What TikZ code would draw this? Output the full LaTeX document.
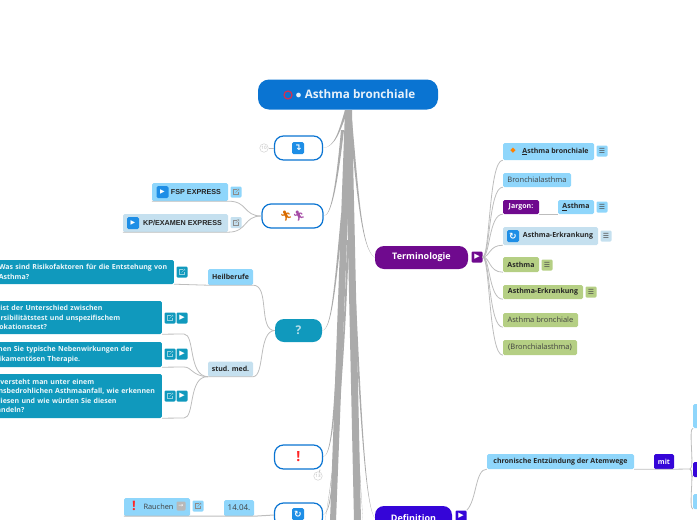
\documentclass[tikz,border=0pt]{standalone}
\usepackage{fontspec}
\setmainfont{Open Sans}
\newfontfamily\symfont{DejaVu Sans}
\newfontfamily\emojifont{Noto Emoji}
\newfontfamily\arialfont{Liberation Sans}
\usetikzlibrary{positioning}
\definecolor{skychip}{HTML}{8FD6FB}
\definecolor{palechip}{HTML}{C5E0EF}
\definecolor{greenchip}{HTML}{B5CF84}
\definecolor{tealbox}{HTML}{1099BD}
\definecolor{purplebox}{HTML}{6F0A8E}
\definecolor{indigobox}{HTML}{3505D8}
\definecolor{rootblue}{HTML}{0A74D2}
\definecolor{ringblue}{HTML}{0A74D2}
\definecolor{iconblue}{HTML}{1E8EE6}
\definecolor{limbgray}{HTML}{ABABAB}
\definecolor{linkgray}{HTML}{BDBDBD}
\definecolor{ringred}{HTML}{D02F55}
\tikzset{
  pillbox/.style={rectangle,rounded corners=9pt,inner sep=0pt,font=\fontsize{9}{12}\selectfont\bfseries,text=white},
  ringbox/.style={pillbox,draw=ringblue,line width=1.2pt,fill=white,text=black},
  chipbox/.style={rectangle,rounded corners=1.5pt,inner sep=0pt,font=\fontsize{7}{9}\selectfont\bfseries,text=black!85},
  thinchip/.style={chipbox,font=\fontsize{7.5}{9}\selectfont,text=black!75},
  questbox/.style={rectangle,rounded corners=1.5pt,fill=tealbox,text=white!92!tealbox,inner xsep=4pt,inner ysep=0pt,anchor=east,align=left,
    font=\fontsize{7}{9.4}\selectfont\bfseries},
  iconbtn/.style={rectangle,rounded corners=1.2pt,inner sep=0pt,minimum width=11pt,minimum height=11pt,font=\symfont\fontsize{7}{7}\selectfont},
  iconsq/.style={rectangle,rounded corners=1.5pt,fill=iconblue,text=white,inner sep=0pt,minimum width=12pt,minimum height=12pt,font=\symfont\bfseries\fontsize{9}{9}\selectfont},
  countmark/.style={circle,draw=black!18,line width=.5pt,fill=white,inner sep=0pt,minimum size=8.5pt,text=black!30,font=\fontsize{4.5}{5}\selectfont},
  linkline/.style={draw=linkgray,line width=.8pt},
  linkicon/.pic={\draw[line width=.35pt,#1] (1,-2.5) -- (-2.5,-2.5) -- (-2.5,2.5) -- (2.5,2.5) -- (2.5,-.5);
    \draw[line width=.35pt,#1] (-.5,.5) -- (3,-3) (.8,-3) -- (3,-3) -- (3,-.8);}
}
\newcommand{\limb}[5][2.5pt]{\fill[limbgray] (#2) .. controls (#3) and (#4) .. (#5) .. controls ([xshift=.7pt]#4) and ([xshift=1.5pt]#3) .. ([xshift=#1]#2) -- cycle;}
\newcommand{\linkbtn}[5][skychip]{\node[iconbtn,fill=#1] (#2) at (#3,#4) {}; \pic at (#2.center) {linkicon=#5};}
\begin{document}
\begin{tikzpicture}[x=1pt,y=-1pt]
\useasboundingbox (0,0) rectangle (697,520);
% root and the left side
\node[pillbox,rounded corners=11pt,fill=rootblue,minimum width=180pt,minimum height=30pt,font=\fontsize{11.7}{14}\selectfont\bfseries,text=white!90!rootblue] (root) at (348,94.5) {\hspace*{15pt}$\bullet$ Asthma bronchiale};
\node[circle,draw=ringred,line width=1.3pt,inner sep=0pt,minimum size=8pt] (rootring) at (288,95) {};
\coordinate (rootfoot) at (345,110);
\node[ringbox,minimum width=48pt,minimum height=24pt] (turn) at (298.5,148) {};
\node[iconsq] (turnicon) at (298,148) {\char"21B4};
\node[countmark] (turncount) at (264,148) {10};
\node[ringbox,minimum width=61pt,minimum height=24pt,font=\emojifont\fontsize{10}{10}\selectfont] (runners) at (292.5,216) {\textcolor{orange!85!black}{^^^^^^01f3c3}\textcolor{violet!70}{^^^^^^01f3c3}};
\node[chipbox,fill=skychip,minimum width=76pt,minimum height=18pt,font=\arialfont\fontsize{7.2}{8}\selectfont\bfseries] (fsp) at (190,192) {\hspace*{12pt}FSP EXPRESS};
\node[iconsq,font=\symfont\fontsize{6}{6}\selectfont] (fspicon) at (162.5,192) {\char"25B6};
\linkbtn{fsplink}{236}{192}{black!45}
\node[chipbox,fill=palechip,minimum width=105pt,minimum height=18pt,font=\arialfont\fontsize{7.2}{8}\selectfont\bfseries] (kp) at (175.5,223) {\hspace*{14pt}KP/EXAMEN EXPRESS};
\node[iconsq,font=\symfont\fontsize{6}{6}\selectfont] (kpicon) at (133,223) {\char"25B6};
\linkbtn[palechip]{kplink}{236}{222.5}{black!45}
\node[questbox,text width=171pt,minimum height=24pt] (riskbox) at (174,272) {Was sind Risikofaktoren für die Entstehung von\\Asthma?};
\node[iconbtn,fill=tealbox] (risklink) at (182,272) {}; \pic at (risklink.center) {linkicon=white!55!tealbox};
\node[chipbox,fill=skychip,minimum width=45pt,minimum height=16pt] (heil) at (230.5,277) {Heilberufe};
\node[pillbox,fill=tealbox,minimum width=47pt,minimum height=23pt,font=\fontsize{12}{14}\selectfont\bfseries,text=white!70!tealbox] (quest) at (298.5,330.5) {?};
\node[chipbox,fill=palechip,minimum width=45pt,minimum height=15pt] (stud) at (230.5,369) {stud. med.};
\node[questbox,text width=174pt,minimum height=33pt] (testbox) at (162,317.5) {Was ist der Unterschied zwischen\\Reversibilitätstest und unspezifischem\\Provokationstest?};
\node[questbox,text width=174pt,minimum height=25pt] (nebenbox) at (162,354.5) {Nennen Sie typische Nebenwirkungen der\\medikamentösen Therapie.};
\node[questbox,text width=174pt,minimum height=44pt] (anfallbox) at (162,396) {Was versteht man unter einem\\lebensbedrohlichen Asthmaanfall, wie erkennen\\Sie diesen und wie würden Sie diesen\\behandeln?};
\foreach \nm/\yy in {test/318,neben/354,anfall/396}{
  \node[iconbtn,fill=tealbox] (\nm link) at (170,\yy) {}; \pic at (\nm link.center) {linkicon=white!55!tealbox};
  \node[iconbtn,fill=tealbox,text=white] (\nm play) at (182,\yy) {\char"25B6};
}
\node[ringbox,minimum width=48pt,minimum height=24pt,font=\fontsize{14}{14}\selectfont\bfseries,text=red!85] (warn) at (298.5,457) {!};
\node[countmark] (warncount) at (318,476) {13};
\node[ringbox,minimum width=48pt,minimum height=24pt] (cycle) at (298.5,515) {};
\node[iconsq] (cycleicon) at (298,514) {\char"21BB};
\node[chipbox,fill=skychip,minimum width=30pt,minimum height=16pt,font=\fontsize{8}{9}\selectfont,text=black!75] (date) at (239,508) {14.04.};
\node[chipbox,fill=skychip,minimum width=66pt,minimum height=18pt,font=\fontsize{7.4}{9}\selectfont,text=black!75] (rauchen) at (157,507) {\hspace*{3pt}Rauchen};
\node[inner sep=0pt,text=red!85,font=\fontsize{13}{13}\selectfont\bfseries] (rauchenmark) at (134,506) {!};
\node[iconbtn,fill=black!28,text=white,minimum width=9pt,minimum height=9pt,font=\symfont\fontsize{6}{6}\selectfont] (rauchenarrow) at (181,506) {\char"2192};
\linkbtn{rauchenlink}{198}{506}{black!45}
% terminology side
\node[pillbox,fill=purplebox,minimum width=93pt,minimum height=23pt] (term) at (421.5,257.5) {Terminologie};
\node[iconbtn,fill=purplebox,text=white] (termplay) at (477,257) {\char"25B6};
\node[chipbox,fill=skychip,minimum width=91pt,minimum height=17pt] (asthmaone) at (548.5,151.5) {\hspace*{14pt}\underline{A}sthma bronchiale};
\node[inner sep=0pt,text=orange,font=\symfont\fontsize{7}{7}\selectfont] (asthmaonedot) at (513,151) {\char"25C6};
\node[iconbtn,fill=skychip,text=black!70] (asthmaonemenu) at (602,151) {\char"2630};
\node[thinchip,fill=skychip,minimum width=68pt,minimum height=14pt] (bronchial) at (537,180) {Bronchialasthma};
\node[chipbox,fill=purplebox,text=white,minimum width=36pt,minimum height=14pt] (jargon) at (521,207) {Jargon:};
\node[chipbox,fill=skychip,minimum width=36pt,minimum height=14pt] (jargonval) at (576,207) {\underline{A}sthma};
\node[iconbtn,fill=skychip,text=black!70] (jargonmenu) at (602,207) {\char"2630};
\node[chipbox,fill=palechip,minimum width=95pt,minimum height=18pt] (erkr) at (550.5,236) {\hspace*{15pt}Asthma-Erkrankung};
\node[iconsq] (erkricon) at (513,236) {\char"21BB};
\node[iconbtn,fill=palechip,text=black!70] (erkrmenu) at (606,236) {\char"2630};
\node[chipbox,fill=greenchip,minimum width=36pt,minimum height=15pt] (gasthma) at (521,264.5) {Asthma};
\node[iconbtn,fill=greenchip,text=black!70] (gasthmamenu) at (547,265) {\char"2630};
\node[chipbox,fill=greenchip,minimum width=80pt,minimum height=14pt] (gerkr) at (543,292) {Asthma-Erkrankung};
\node[iconbtn,fill=greenchip,text=black!70] (gerkrmenu) at (591,292) {\char"2630};
\node[thinchip,fill=greenchip,minimum width=75pt,minimum height=14pt] (gbronch) at (540.5,320) {Asthma bronchiale};
\node[thinchip,fill=greenchip,minimum width=74pt,minimum height=15pt] (gbrasth) at (540,347.5) {(Bronchialasthma)};
% definition side
\node[pillbox,fill=indigobox,minimum width=77pt,minimum height=24pt] (defi) at (413.5,518) {Definition};
\node[iconbtn,fill=indigobox,text=white] (defiplay) at (461,516) {\char"25B6};
\node[chipbox,fill=skychip,minimum width=147pt,minimum height=15pt] (chron) at (560.5,461.5) {chronische Entzündung der Atemwege};
\node[chipbox,fill=indigobox,text=white,minimum width=20pt,minimum height=15pt] (mit) at (664,461.5) {mit};
\coordinate (fork) at (690,469);
\node[chipbox,fill=skychip,minimum width=12pt,minimum height=24pt,anchor=west] (mitone) at (693,416) {};
\node[chipbox,fill=indigobox,minimum width=12pt,minimum height=15pt,anchor=west] (mittwo) at (693,469.5) {};
\node[chipbox,fill=skychip,minimum width=12pt,minimum height=15pt,anchor=west] (mitthree) at (693,501.5) {};
% thick branches
\coordinate (leftfoot) at (330,521);
\coordinate (rightfoot) at (354,521);
\coordinate (leftfar) at (325,521);
\coordinate (rightfar) at (363,521);
\fill[limbgray] (rootfoot) -- (leftfoot) -- ([xshift=6pt]leftfoot) -- ([xshift=7pt]rootfoot) -- cycle;
\fill[limbgray] (rootfoot) -- (rightfoot) -- ([xshift=7pt]rightfoot) -- ([xshift=7pt]rootfoot) -- cycle;
\limb[3pt]{rootfoot}{339,130}{335,147}{turn.east}
\limb[3pt]{341,130}{336,185}{331,216}{runners.east}
\limb[2.5pt]{341,215}{334,290}{331,330}{quest.east}
\limb[2.5pt]{337,350}{333,420}{331,455}{warn.east}
\limb[2.5pt]{336,420}{332,490}{330,512}{cycle.east}
\limb[3pt]{349,120}{357,190}{361,250}{term.west}
\limb[2.5pt]{352,270}{359,390}{364,505}{defi.west}
\limb[2pt]{347,240}{342,400}{333,470}{leftfar}
\limb[2pt]{348,220}{352,380}{358,450}{rightfar}
% thin connectors
\draw[linkline] (turncount) -- (turn.west);
\draw[linkline] (warn.south east) ++(-3,0) -- (warncount);
\draw[linkline] (fsp.south west) -- (fsp.south east) .. controls (248,201) and (243,216) .. (runners.west);
\draw[linkline] (kp.south west) -- (kp.south east) .. controls (248,232) and (243,216) .. (runners.west);
\draw[linkline] (riskbox.south east) -- (heil.south west) -- (heil.south east) .. controls (270,285) and (258,331) .. (quest.west);
\draw[linkline] (stud.south west) -- (stud.south east) .. controls (265,376) and (258,331) .. (quest.west);
\draw[linkline] (testbox.south east) -- (184,334) .. controls (195,334) and (188,376) .. (stud.south west);
\draw[linkline] (nebenbox.south east) -- (184,367) .. controls (192,367) and (192,376) .. (stud.south west);
\draw[linkline] (anfallbox.south east) -- (184,418) .. controls (195,418) and (188,376) .. (stud.south west);
\draw[linkline,line width=1pt] (rauchen.south west) -- (date.south west) -- (date.south east) -- (cycle.west);
\foreach \kid in {asthmaone,bronchial,jargon,erkr,gasthma,gerkr,gbronch,gbrasth}{
  \draw[linkline] (termplay.east) .. controls (490,257) and ([xshift=-14pt]\kid.south west) .. (\kid.south west);
}
\draw[linkline] (jargon.south east) -- (jargonval.south west);
\draw[linkline] (defiplay.north east) .. controls (477,500) and (475,469) .. (chron.south west);
\draw[linkline] (chron.south east) -- (mit.south west) -- (mit.south east) -- (fork);
\draw[linkline] (fork) .. controls (695,469) and (688,428) .. (mitone.south west);
\draw[linkline] (fork) .. controls (692,469) and (691,477) .. (mittwo.south west);
\draw[linkline] (fork) .. controls (695,469) and (688,509) .. (mitthree.south west);
\end{tikzpicture}
\end{document}
